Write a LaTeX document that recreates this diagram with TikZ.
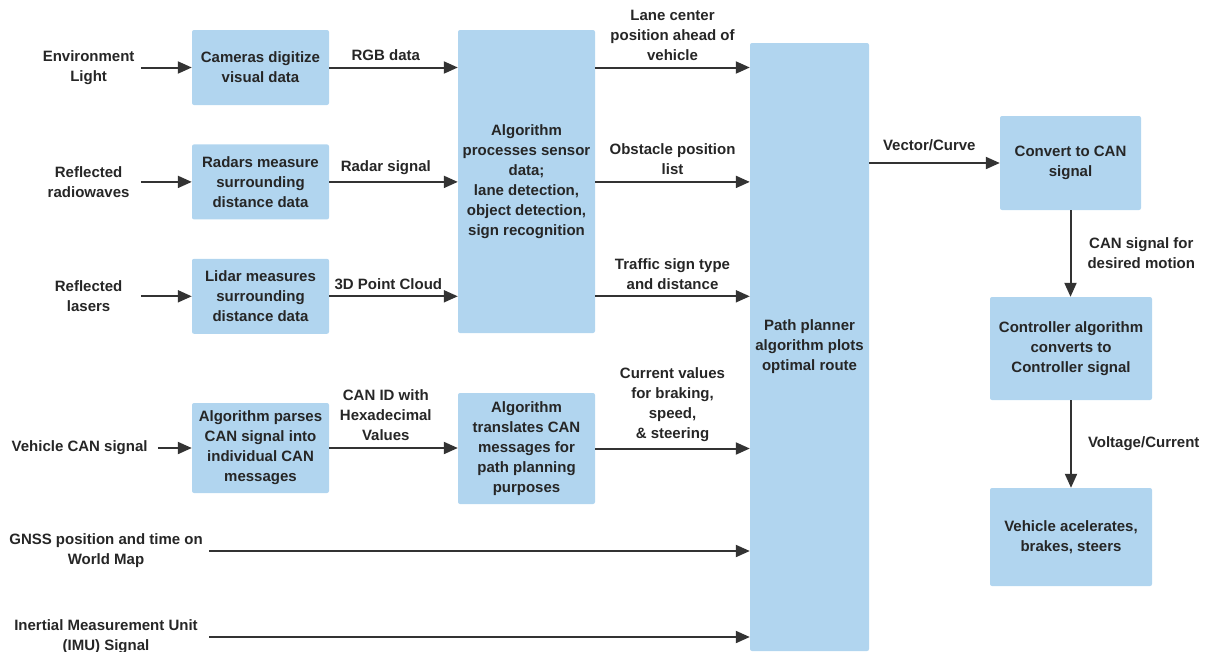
\documentclass[tikz,border=0pt]{standalone}
\usepackage{fontspec}
\setmainfont{Liberation Sans}
\usetikzlibrary{arrows.meta,positioning}
\definecolor{boxblue}{RGB}{177,213,239}
\definecolor{linegray}{RGB}{51,51,51}

\begin{document}
\begin{tikzpicture}[
    x=1pt, y=-1pt,
    every node/.style={font=\fontsize{15}{20}\selectfont\bfseries, text=black!85},
    blk/.style={fill=boxblue, rounded corners=2pt, align=center, inner sep=2pt},
    inp/.style={align=center, inner sep=0pt, minimum width=104pt},
    lbl/.style={align=center, inner sep=1pt},
    arr/.style={-{Triangle[length=14pt,width=12pt]}, line width=2pt, draw=linegray},
  ]
  \useasboundingbox (0,0) rectangle (1206,651);

  % sensor boxes
  \node[blk, minimum width=137pt, minimum height=75pt] (cam) at (260.5,67.5) {Cameras digitize\\visual data};
  \node[blk, minimum width=137pt, minimum height=75pt, below=39pt of cam] (radar) {Radars measure\\surrounding\\distance data};
  \node[blk, minimum width=137pt, minimum height=75pt, below=39pt of radar] (lidar) {Lidar measures\\surrounding\\distance data};
  \node[blk, minimum width=137pt, minimum height=90pt] (parse) at (260.5,448) {Algorithm parses\\CAN signal into\\individual CAN\\messages};

  % processing
  \node[blk, minimum width=137pt, minimum height=303pt] (alg) at (526.5,181.5) {Algorithm\\processes sensor\\data;\\lane detection,\\object detection,\\sign recognition};
  \node[blk, minimum width=137pt, minimum height=111pt] (trans) at (526.5,448.5) {Algorithm\\translates CAN\\messages for\\path planning\\purposes};
  \node[blk, minimum width=119pt, minimum height=608pt] (planner) at (809.5,347) {Path planner\\algorithm plots\\optimal route};

  % actuation chain
  \node[blk, minimum width=141pt, minimum height=94pt] (conv) at (1070.5,163) {Convert to CAN\\signal};
  \node[blk, minimum width=162pt, minimum height=103pt] (ctrl) at (1071,348.5) {Controller algorithm\\converts to\\Controller signal};
  \node[blk, minimum width=162pt, minimum height=98pt] (act) at (1071,537) {Vehicle acelerates,\\brakes, steers};

  % inputs
  \node[inp, left=51pt of cam] (envlight) {Environment\\Light};
  \node[inp, left=51pt of radar] (radio) {Reflected\\radiowaves};
  \node[inp, left=51pt of lidar] (laser) {Reflected\\lasers};
  \node[inp, minimum width=156pt, left=34pt of parse] (vcan) {Vehicle CAN signal};
  \node[inp, minimum width=206pt] (gnss) at (106,551) {GNSS position and time on\\World Map};
  \node[inp, minimum width=206pt] (imu) at (106,637) {Inertial Measurement Unit\\(IMU) Signal};

  \draw[arr] (envlight.east |- cam.west) -- (cam.west);
  \draw[arr] (radio.east |- radar.west) -- (radar.west);
  \draw[arr] (laser.east |- lidar.west) -- (lidar.west);
  \draw[arr] (vcan.east |- parse.west) -- (parse.west);

  \draw[arr] (cam.east) -- (cam.east -| alg.west) node[lbl,pos=0.44,above=5pt]{RGB data};
  \draw[arr] (radar.east) -- (radar.east -| alg.west) node[lbl,pos=0.44,above=5pt]{Radar signal};
  \draw[arr] (lidar.east) -- (lidar.east -| alg.west) node[lbl,pos=0.46,above=5pt]{3D Point Cloud};
  \draw[arr] (parse.east) -- (parse.east -| trans.west) node[lbl,pos=0.44,above=5pt]{CAN ID with\\Hexadecimal\\Values};

  \draw[arr] (alg.east |- cam.east) -- (planner.west |- cam.east) node[lbl,midway,above=5pt]{Lane center\\position ahead of\\vehicle};
  \draw[arr] (alg.east |- radar.east) -- (planner.west |- radar.east) node[lbl,midway,above=5pt]{Obstacle position\\list};
  \draw[arr] (alg.east |- lidar.east) -- (planner.west |- lidar.east) node[lbl,midway,above=5pt]{Traffic sign type\\and distance};
  \draw[arr] (trans.east) -- (trans.east -| planner.west) node[lbl,midway,above=5pt]{Current values\\for braking,\\speed,\\\& steering};
  \draw[arr] (gnss.east) -- (gnss.east -| planner.west);
  \draw[arr] (imu.east) -- (imu.east -| planner.west);

  \draw[arr] (conv.west -| planner.east) -- (conv.west) node[lbl,pos=0.46,above=10pt]{Vector/Curve};
  \draw[arr] (conv.south) -- (conv.south |- ctrl.north) node[lbl,midway,right=15pt]{CAN signal for\\desired motion};
  \draw[arr] (ctrl.south) -- (ctrl.south |- act.north) node[lbl,midway,right=15pt]{Voltage/Current};
\end{tikzpicture}
\end{document}
